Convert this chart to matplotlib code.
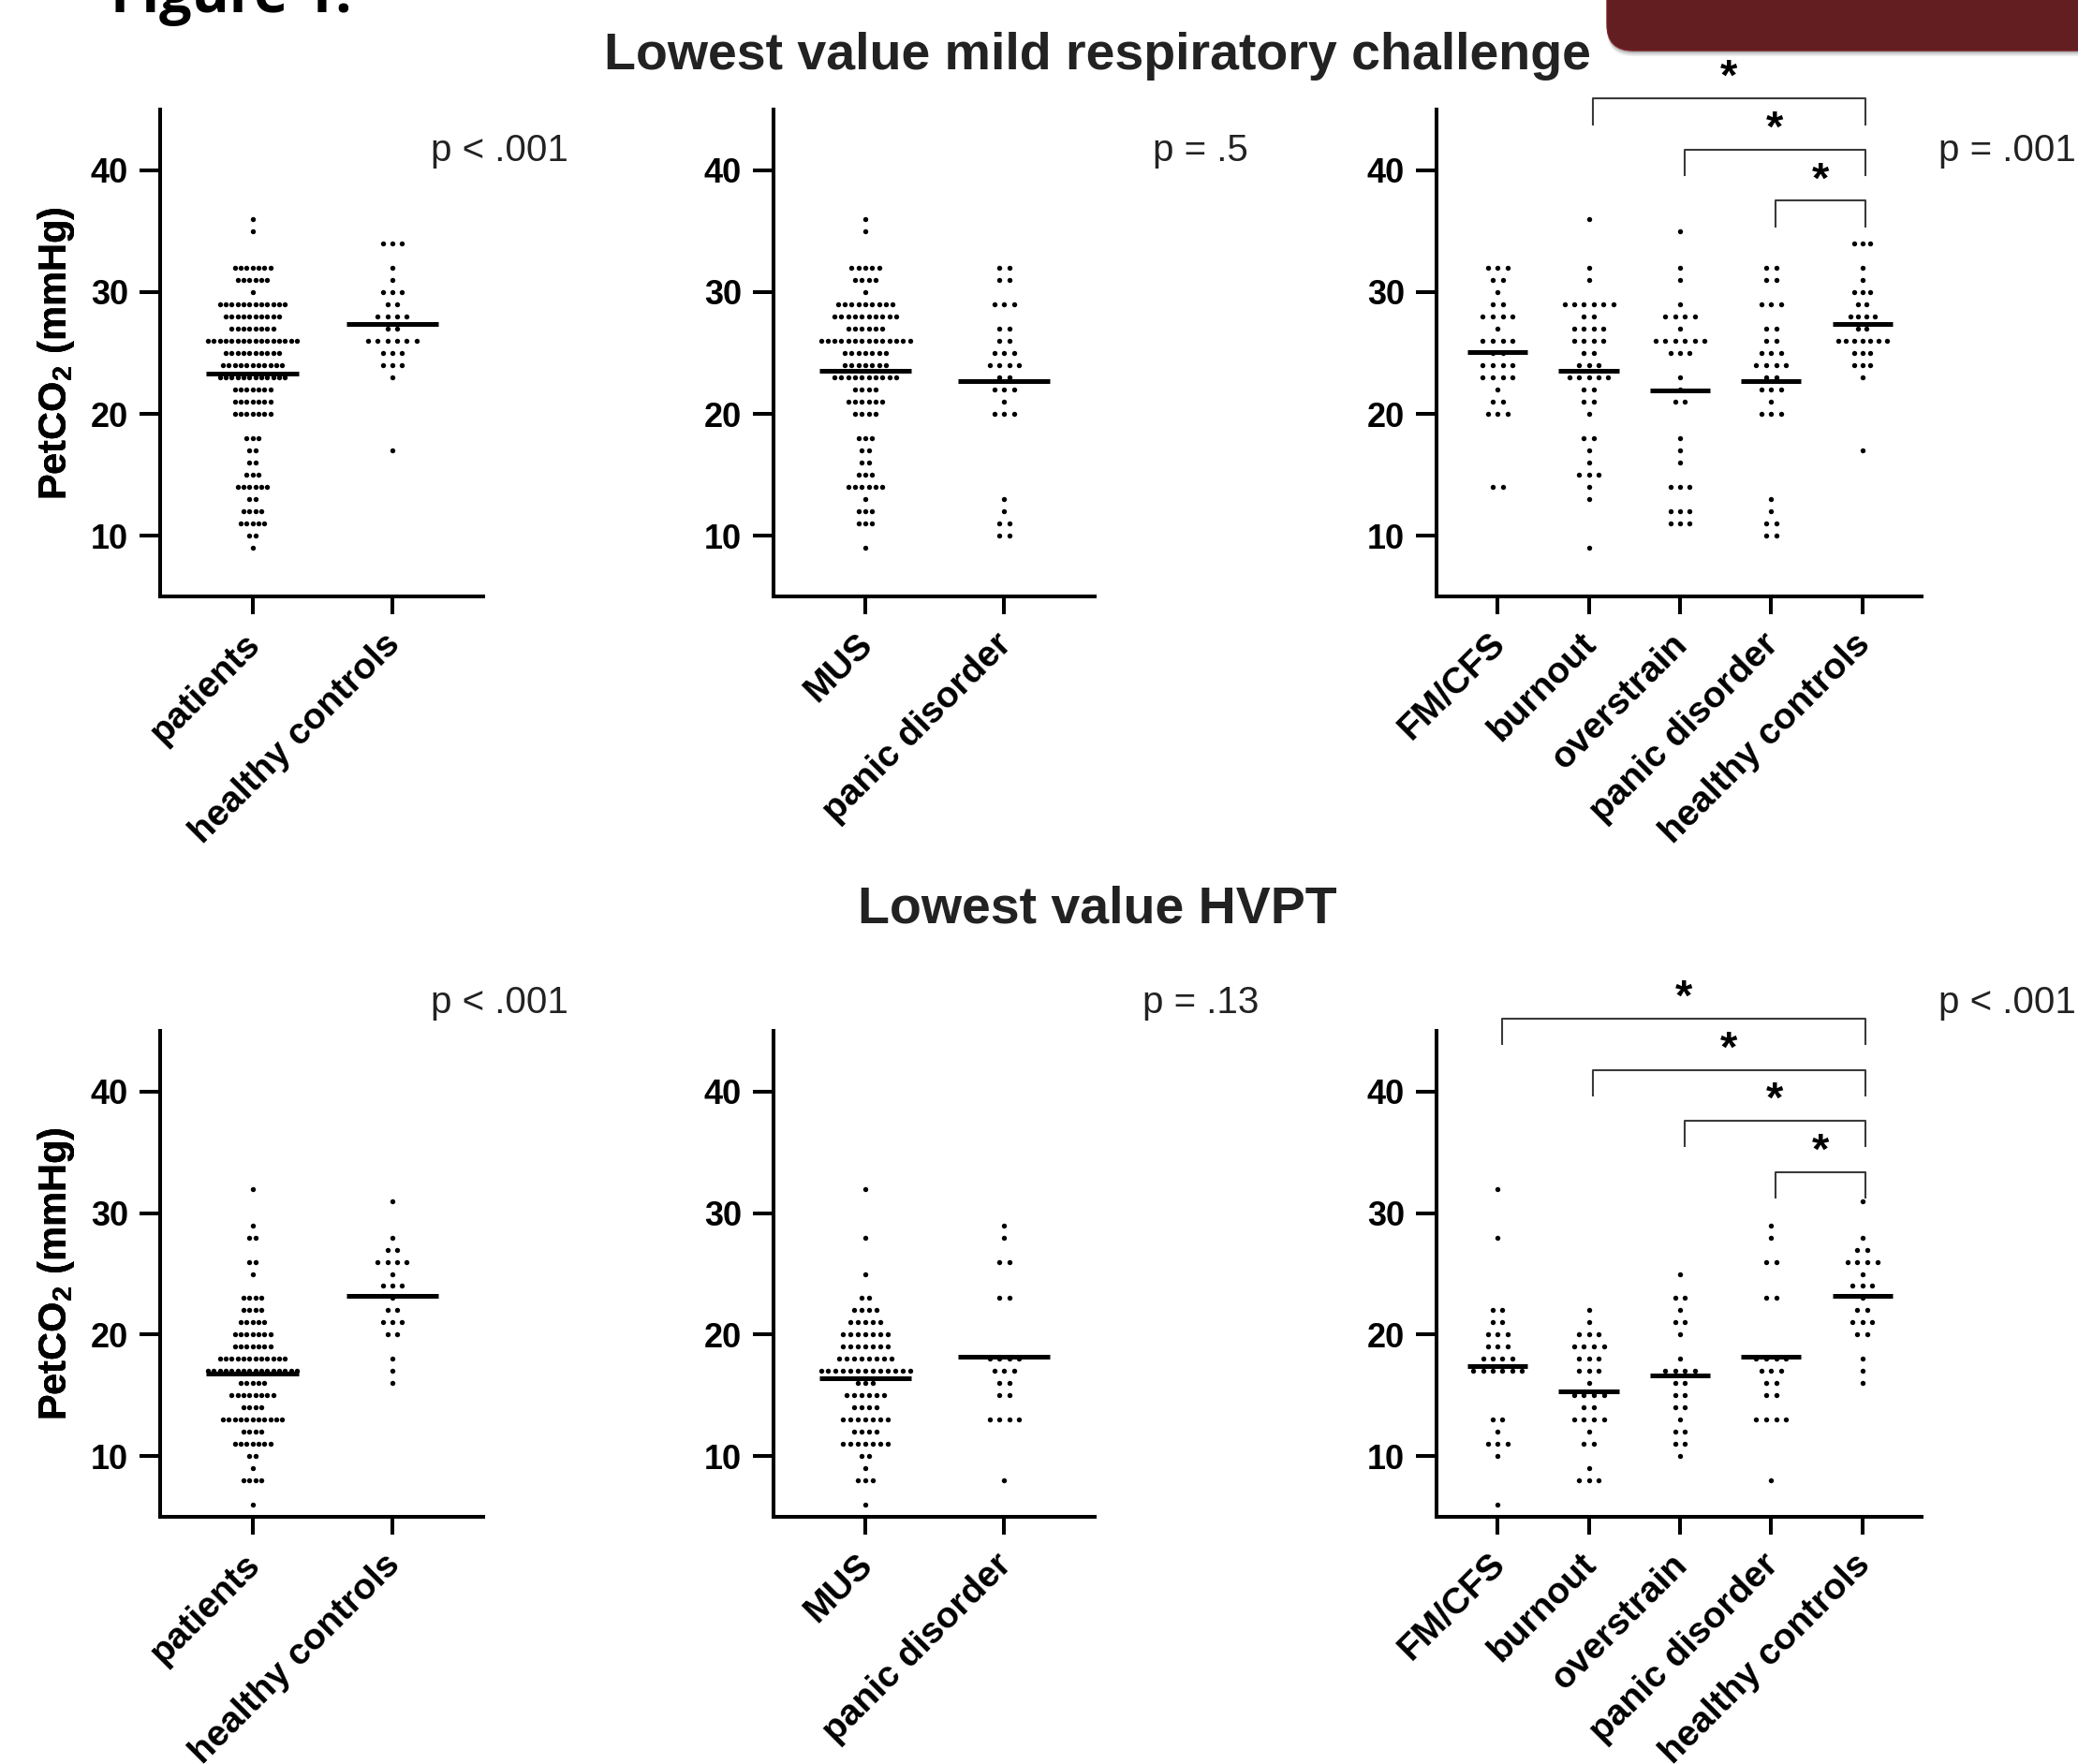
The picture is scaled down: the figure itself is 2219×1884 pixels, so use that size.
import numpy as np
import matplotlib
matplotlib.use('Agg')
import matplotlib.pyplot as plt
from matplotlib.patches import FancyBboxPatch
from matplotlib.transforms import IdentityTransform, ScaledTranslation

plt.rcParams['font.family'] = ['Liberation Sans', 'DejaVu Sans']
plt.rcParams['mathtext.fontset'] = 'custom'
plt.rcParams['mathtext.rm'] = 'Liberation Sans'
plt.rcParams['mathtext.bf'] = 'Liberation Sans:bold'

# PetCO2 value (mmHg) -> number of subjects
# lowest value mild respiratory challenge
patients_mild = {36: 1, 35: 1, 32: 7, 31: 6, 30: 1, 29: 12, 28: 10, 27: 8, 26: 16, 25: 10, 24: 11,
                 23: 12, 22: 7, 21: 7, 20: 7, 18: 3, 17: 2, 16: 2, 15: 3, 14: 6, 13: 2, 12: 4,
                 11: 5, 10: 2, 9: 1}
hc_mild = {34: 3, 32: 1, 31: 1, 30: 3, 29: 2, 28: 4, 27: 2, 26: 6, 25: 3, 24: 3, 23: 1, 17: 1}
hc_mild_5 = {34: 3, 32: 1, 31: 1, 30: 3, 29: 2, 28: 4, 27: 2, 26: 7, 25: 3, 24: 3, 23: 1, 17: 1}
mus_mild = {36: 1, 35: 1, 32: 5, 31: 4, 30: 1, 29: 9, 28: 10, 27: 6, 26: 14, 25: 7, 24: 7, 23: 10,
            22: 4, 21: 6, 20: 4, 18: 3, 17: 2, 16: 2, 15: 3, 14: 6, 13: 1, 12: 3, 11: 3, 9: 1}
pd_mild = {32: 2, 31: 2, 29: 3, 27: 2, 26: 2, 25: 3, 24: 4, 23: 2, 22: 3, 21: 1, 20: 3, 13: 1,
           12: 1, 11: 2, 10: 2}
fm_mild = {32: 3, 31: 2, 30: 1, 29: 2, 28: 4, 27: 1, 26: 4, 25: 2, 24: 4, 23: 4, 22: 1, 21: 2,
           20: 3, 14: 2}
burnout_mild = {36: 1, 32: 1, 31: 1, 29: 6, 28: 2, 27: 4, 26: 4, 25: 2, 24: 3, 23: 5, 22: 2, 21: 2,
                20: 1, 18: 2, 17: 1, 16: 1, 15: 3, 14: 1, 13: 1, 9: 1}
overstrain_mild = {35: 1, 32: 1, 31: 1, 29: 1, 28: 4, 27: 1, 26: 6, 25: 3, 23: 1, 22: 1, 21: 2,
                   18: 1, 17: 1, 16: 1, 14: 3, 12: 3, 11: 3}

# lowest value HVPT
patients_hvpt = {32: 1, 29: 1, 28: 2, 26: 2, 25: 1, 23: 4, 22: 4, 21: 5, 20: 7, 19: 7, 18: 12,
                 17: 16, 16: 5, 15: 8, 14: 4, 13: 11, 12: 4, 11: 7, 10: 2, 9: 1, 8: 4, 6: 1}
hc_hvpt = {31: 1, 28: 1, 27: 2, 26: 4, 25: 1, 24: 3, 23: 1, 22: 2, 21: 3, 20: 2, 18: 1, 17: 1, 16: 1}
mus_hvpt = {32: 1, 28: 1, 25: 1, 23: 2, 22: 4, 21: 5, 20: 7, 19: 7, 18: 8, 17: 13, 16: 3, 15: 6,
            14: 4, 13: 7, 12: 4, 11: 7, 10: 2, 9: 1, 8: 3, 6: 1}
pd_hvpt = {29: 1, 28: 1, 26: 2, 23: 2, 18: 4, 17: 3, 16: 2, 15: 2, 13: 4, 8: 1}
fm_hvpt = {32: 1, 28: 1, 22: 2, 21: 2, 20: 3, 19: 3, 18: 4, 17: 6, 13: 2, 12: 1, 11: 3, 10: 1, 6: 1}
burnout_hvpt = {22: 1, 21: 1, 20: 3, 19: 4, 18: 3, 17: 3, 16: 1, 15: 4, 14: 2, 13: 4, 12: 1, 11: 2,
                9: 1, 8: 3}
overstrain_hvpt = {25: 1, 23: 2, 22: 1, 21: 2, 20: 1, 18: 1, 17: 4, 16: 2, 15: 2, 14: 2, 13: 1,
                   12: 2, 11: 2, 10: 1}

# group means (horizontal bars)
means_mild_2a = [23.3, 27.4]
means_mild_2b = [23.5, 22.7]
means_mild_5 = [25.1, 23.5, 21.9, 22.7, 27.4]
means_hvpt_2a = [16.8, 23.2]
means_hvpt_2b = [16.4, 18.2]
means_hvpt_5 = [17.4, 15.3, 16.6, 18.2, 23.2]

labels_a = ['patients', 'healthy controls']
labels_b = ['MUS', 'panic disorder']
labels_5 = ['FM/CFS', 'burnout', 'overstrain', 'panic disorder', 'healthy controls']

pvals_mild = ['p < .001', 'p = .5', 'p = .001']
pvals_hvpt = ['p < .001', 'p = .13', 'p < .001']

# significance brackets: (from group, to group, height)
brackets_mild = [(1, 4, 45.9), (2, 4, 41.7), (3, 4, 37.5)]
brackets_hvpt = [(0, 4, 46.0), (1, 4, 41.8), (2, 4, 37.6), (3, 4, 33.4)]

W, H = 2219, 1884
fig = plt.figure(figsize=(W / 100, H / 100), dpi=100)

col_l = [171, 826, 1534]
col_r = [516, 1169, 2052]
row_t = [117, 1101]
row_b = [637, 1620]
p_x = [[460, 1231, 2070], [460, 1220, 2070]]
p_y = [172, 1082]


def draw_panel(r, c, groups, labels, means, pval, brackets=None):
    l, rr, t, b = col_l[c], col_r[c], row_t[r], row_b[r]
    ax = fig.add_axes([l / W, 1 - b / H, (rr - l) / W, (b - t) / H])
    n = len(groups)
    xlim = (-0.66, 1.65) if n == 2 else (-0.67, 4.65)
    ax.set_xlim(*xlim)
    ax.set_ylim(5, 45)
    ppu = (rr - l) / (xlim[1] - xlim[0])
    base = (10.3 if n == 2 else 10.7) / ppu
    maxw = (95 if n == 2 else 52) / ppu
    for i, g in enumerate(groups):
        nmax = max(g.values())
        sp = base if nmax < 2 else min(base, maxw / (nmax - 1))
        xs, ys = [], []
        for v, k in g.items():
            xs.extend(i + (np.arange(k) - (k - 1) / 2) * sp)
            ys.extend([v] * k)
        ax.scatter(xs, ys, s=15, c='black', linewidths=0, zorder=2)
        ax.plot([i - 0.33, i + 0.33], [means[i], means[i]], color='black', lw=3.6,
                solid_capstyle='butt', zorder=3)
    for s in ['top', 'right']:
        ax.spines[s].set_visible(False)
    for s in ['left', 'bottom']:
        ax.spines[s].set_linewidth(2.9)
    ax.set_yticks([10, 20, 30, 40])
    ax.set_xticks(range(n))
    ax.set_xticklabels(labels, rotation=45, ha='right', va='top', rotation_mode='anchor',
                       fontsize=28, fontweight='bold')
    ax.tick_params(axis='y', length=15.8, width=2.9, pad=8.6, labelsize=26)
    ax.tick_params(axis='x', length=14, width=2.9, pad=11)
    for lab in ax.get_yticklabels():
        lab.set_fontweight('bold')
    shift = ScaledTranslation(-0.10, 0.02, fig.dpi_scale_trans)
    for lab in ax.get_xticklabels():
        lab.set_transform(lab.get_transform() + shift)
    ax.set_ylabel(r'PetCO$_\mathbf{2}$ (mmHg)', fontsize=30, fontweight='bold')
    ax.yaxis.set_label_coords((82 - l) / (rr - l), 0.5)
    fig.text(p_x[r][c] / W, 1 - p_y[r] / H, pval, fontsize=29, color='#222222', va='baseline')
    if brackets:
        drop = 2.1
        for g0, g1, yb in brackets:
            x0, x1 = g0 + 0.05, g1 + 0.03
            ax.plot([x0, x0, x1, x1], [yb - drop, yb, yb, yb - drop], color='#3a3a3a', lw=1.5,
                    clip_on=False, zorder=4)
            ax.text((x0 + x1) / 2, yb + 0.7, '*', ha='center', va='baseline', fontsize=34,
                    fontweight='bold', clip_on=False)
    return ax


draw_panel(0, 0, [patients_mild, hc_mild], labels_a, means_mild_2a, pvals_mild[0])
draw_panel(0, 1, [mus_mild, pd_mild], labels_b, means_mild_2b, pvals_mild[1])
draw_panel(0, 2, [fm_mild, burnout_mild, overstrain_mild, pd_mild, hc_mild_5], labels_5,
           means_mild_5, pvals_mild[2], brackets_mild)
draw_panel(1, 0, [patients_hvpt, hc_hvpt], labels_a, means_hvpt_2a, pvals_hvpt[0])
draw_panel(1, 1, [mus_hvpt, pd_hvpt], labels_b, means_hvpt_2b, pvals_hvpt[1])
draw_panel(1, 2, [fm_hvpt, burnout_hvpt, overstrain_hvpt, pd_hvpt, hc_hvpt], labels_5,
           means_hvpt_5, pvals_hvpt[2], brackets_hvpt)

fig.text(1172 / W, 1 - 74 / H, 'Lowest value mild respiratory challenge', ha='center',
         va='baseline', fontsize=40, fontweight='bold', color='#222222')
fig.text(1172 / W, 1 - 985 / H, 'Lowest value HVPT', ha='center', va='baseline',
         fontsize=40, fontweight='bold', color='#222222')
fig.text(118 / W, 1 - 13 / H, 'Figure 1.', fontsize=44, fontweight='bold',
         family=['Open Sans', 'DejaVu Sans'], va='baseline')

# banner in the top right corner, with a soft shadow
for k, a in [(6, 0.08), (4, 0.12), (2, 0.18)]:
    fig.add_artist(FancyBboxPatch((1716, H - 54 - k), 700, 300,
                                  boxstyle='round,pad=0,rounding_size=28',
                                  transform=IdentityTransform(), fc='black', ec='none', alpha=a))
fig.add_artist(FancyBboxPatch((1716, H - 54), 700, 300, boxstyle='round,pad=0,rounding_size=28',
                              transform=IdentityTransform(), fc='#621e21', ec='#7a1f25', lw=1))

fig.savefig('out.png', dpi=100)
